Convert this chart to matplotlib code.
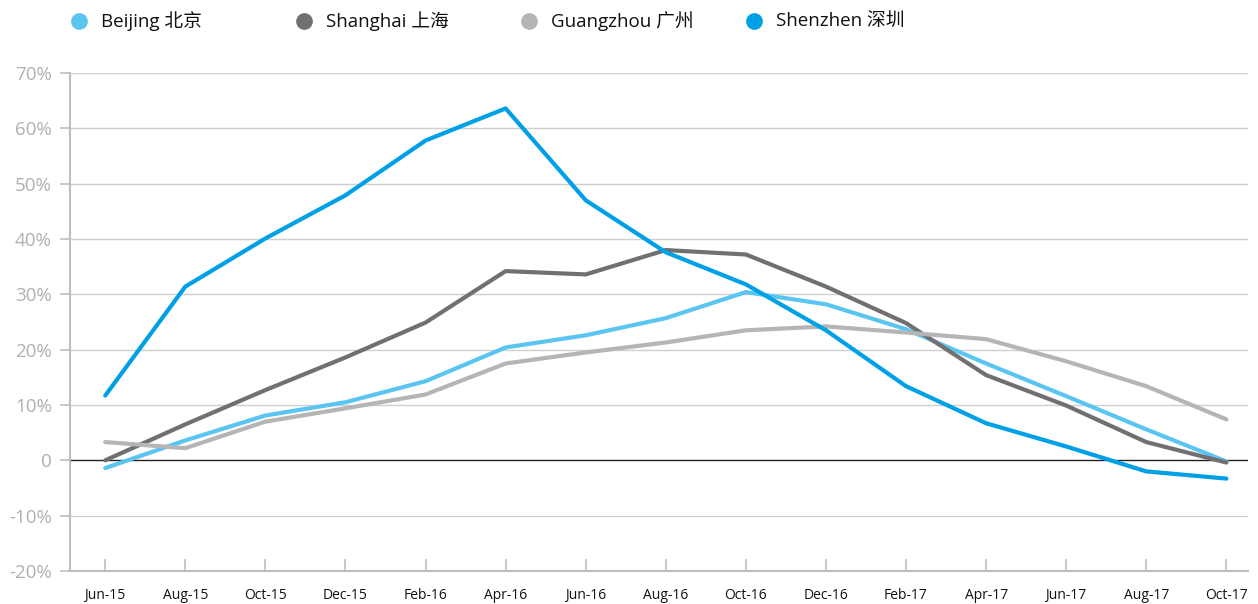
import matplotlib
matplotlib.use("Agg")
import matplotlib.pyplot as plt
from matplotlib.lines import Line2D
from matplotlib.ticker import FuncFormatter

plt.rcParams['font.family'] = ['Open Sans', 'Noto Sans CJK SC', 'DejaVu Sans']

months = ["Jun-15", "Aug-15", "Oct-15", "Dec-15", "Feb-16", "Apr-16", "Jun-16", "Aug-16",
          "Oct-16", "Dec-16", "Feb-17", "Apr-17", "Jun-17", "Aug-17", "Oct-17"]
beijing = [-1.4, 3.6, 8.1, 10.5, 14.3, 20.4, 22.6, 25.7, 30.4, 28.2, 23.7, 17.5, 11.6, 5.6, -0.2]
shanghai = [0.0, 6.5, 12.7, 18.6, 24.9, 34.2, 33.6, 38.0, 37.2, 31.4, 24.8, 15.4, 9.9, 3.3, -0.4]
guangzhou = [3.3, 2.2, 7.0, 9.4, 11.9, 17.5, 19.5, 21.3, 23.5, 24.2, 23.1, 21.9, 17.9, 13.4, 7.4]
shenzhen = [11.7, 31.4, 40.1, 47.9, 57.8, 63.6, 47.0, 37.6, 31.8, 23.5, 13.4, 6.7, 2.5, -2.0, -3.3]

series = [("Beijing 北京", beijing, "#5BC5F2"),
          ("Shanghai 上海", shanghai, "#707070"),
          ("Guangzhou 广州", guangzhou, "#B5B5B5"),
          ("Shenzhen 深圳", shenzhen, "#00A0E6")]
yticks = [-20, -10, 0, 10, 20, 30, 40, 50, 60, 70]

W, H = 1258, 604
fig = plt.figure(figsize=(W / 100, H / 100), dpi=100)
ax = fig.add_axes([70 / W, 33 / H, 1178 / W, 498 / H])

x = list(range(len(months)))
ax.set_ylim(-20, 70)
ax.set_xlim(-0.44, 14.27)

for yv in yticks:
    if yv != 0 and yv != -20:
        ax.axhline(yv, color="#CFCFCF", lw=1, zorder=1)
ax.axhline(0, color="#222222", lw=1, zorder=2)

# draw order: Guangzhou, Beijing, Shanghai, Shenzhen
order = [2, 0, 1, 3]
for i in order:
    name, vals, col = series[i]
    ax.plot(x, vals, color=col, lw=3, solid_capstyle="round", solid_joinstyle="round", zorder=3 + i)

for s in ["top", "right"]:
    ax.spines[s].set_visible(False)
for s in ["left", "bottom"]:
    ax.spines[s].set_color("#BDBDBD")
    ax.spines[s].set_linewidth(1.5)

ax.set_yticks(yticks)
ax.yaxis.set_major_formatter(FuncFormatter(lambda v, p: "0" if v == 0 else f"{int(v)}%"))
ax.tick_params(axis="y", direction="out", length=7, width=1.2, color="#BDBDBD",
               labelcolor="#B0B0B0", labelsize=13.5, pad=6)
ax.set_xticks(x)
ax.set_xticklabels(months)
ax.tick_params(axis="x", direction="in", length=9, width=1.2, color="#BDBDBD",
               labelcolor="#111111", labelsize=10, pad=12)

# legend
for i, (name, vals, col) in enumerate(series):
    xc = 79 + 225 * i
    yc = 21
    fig.add_artist(Line2D([xc / W], [1 - yc / H], marker="o", markersize=11, color=col,
                          lw=0, transform=fig.transFigure))
    fig.text((xc + 22) / W, 1 - yc / H, name, fontsize=13.5, color="#111111",
             va="center", ha="left")

fig.savefig("out.png", dpi=100)
